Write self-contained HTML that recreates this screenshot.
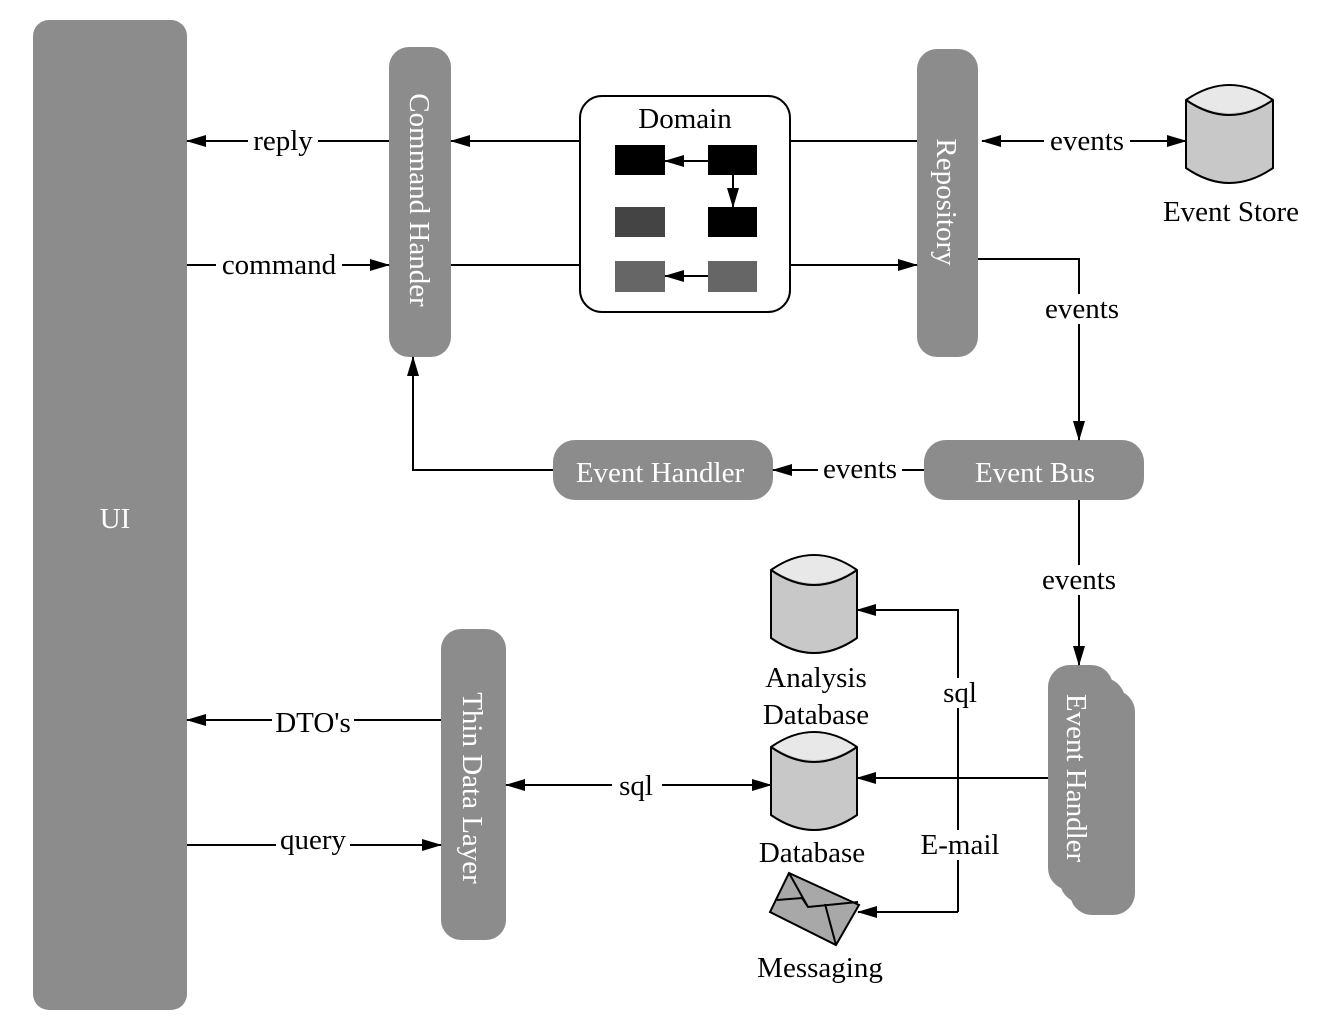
<!DOCTYPE html>
<html><head><meta charset="utf-8"><style>body{margin:0;background:#fff}svg{display:block}text{font-family:"Liberation Serif",serif;font-size:29px}</style></head><body>
<svg width="1336" height="1024" viewBox="0 0 1336 1024" xmlns="http://www.w3.org/2000/svg">
<defs><marker id="a" markerWidth="20" markerHeight="12" refX="19" refY="6" orient="auto-start-reverse" markerUnits="userSpaceOnUse"><path d="M0,0 L20,6 L0,12 Z" fill="#000"/></marker></defs>
<g fill="#8c8c8c">
<rect x="33" y="20" width="154" height="990" rx="16"/>
<rect x="389" y="47" width="62" height="310" rx="20"/>
<rect x="917" y="49" width="61" height="308" rx="20"/>
<rect x="924" y="440" width="220" height="60" rx="22"/>
<rect x="553" y="440" width="220" height="60" rx="22"/>
<rect x="441" y="629" width="65" height="311" rx="20"/>
<rect x="1070" y="690" width="65" height="225" rx="22"/>
<rect x="1060" y="678" width="65" height="225" rx="22"/>
<rect x="1048" y="665" width="65" height="225" rx="22"/>
</g>
<g fill="#fff" text-anchor="middle">
<text x="115" y="528">UI</text>
<text x="660" y="482">Event Handler</text>
<text x="1035" y="482">Event Bus</text>
<text transform="translate(410,200) rotate(90)">Command Hander</text>
<text transform="translate(937,202) rotate(90)">Repository</text>
<text transform="translate(463,788) rotate(90)">Thin Data Layer</text>
<text transform="translate(1067,778) rotate(90)">Event Handler</text>
</g>
<rect x="580" y="96" width="210" height="216" rx="22" fill="#fff" stroke="#000" stroke-width="2"/>
<text x="685" y="128" text-anchor="middle">Domain</text>
<rect x="615" y="145" width="50" height="30" fill="#000"/>
<rect x="708" y="145" width="49" height="30" fill="#000"/>
<rect x="615" y="207" width="50" height="30" fill="#444"/>
<rect x="708" y="207" width="49" height="30" fill="#000"/>
<rect x="615" y="261" width="50" height="31" fill="#666"/>
<rect x="708" y="261" width="49" height="31" fill="#666"/>
<g stroke="#000" stroke-width="2" fill="none">
<line x1="708" y1="161" x2="665" y2="161" marker-end="url(#a)"/>
<line x1="733" y1="175" x2="733" y2="207" marker-end="url(#a)"/>
<line x1="708" y1="276" x2="665" y2="276" marker-end="url(#a)"/>
<line x1="389" y1="141" x2="187" y2="141" marker-end="url(#a)"/>
<line x1="187" y1="265" x2="389" y2="265" marker-end="url(#a)"/>
<line x1="580" y1="141" x2="451" y2="141" marker-end="url(#a)"/>
<line x1="451" y1="265" x2="580" y2="265"/>
<line x1="790" y1="141" x2="917" y2="141"/>
<line x1="790" y1="265" x2="917" y2="265" marker-end="url(#a)"/>
<line x1="982" y1="141" x2="1186" y2="141" marker-start="url(#a)" marker-end="url(#a)"/>
<polyline points="978,259 1079,259 1079,440" marker-end="url(#a)"/>
<line x1="924" y1="470" x2="773" y2="470" marker-end="url(#a)"/>
<polyline points="553,470 413,470 413,357" marker-end="url(#a)"/>
<line x1="1079" y1="500" x2="1079" y2="665" marker-end="url(#a)"/>
<line x1="1048" y1="778" x2="857" y2="778" marker-end="url(#a)"/>
<polyline points="958,912 958,610 857,610" marker-end="url(#a)"/>
<line x1="958" y1="912" x2="858" y2="912" marker-end="url(#a)"/>
<line x1="506" y1="785" x2="771" y2="785" marker-start="url(#a)" marker-end="url(#a)"/>
<line x1="441" y1="720" x2="187" y2="720" marker-end="url(#a)"/>
<line x1="187" y1="845" x2="441" y2="845" marker-end="url(#a)"/>
</g>
<g stroke="#000" stroke-width="2">
<path d="M1186,100 v68 q43.5,30 87,0 v-68 q-43.5,-30 -87,0 Z" fill="#c8c8c8"/>
<path d="M1188,100 q41.5,-28 83,0 q-41.5,26 -83,0Z" fill="#e8e8e8" stroke="none"/>
<path d="M1186,100 q43.5,30 87,0" fill="none"/>
<path d="M771,570 v68 q43,30 86,0 v-68 q-43,-30 -86,0 Z" fill="#c8c8c8"/>
<path d="M773,570 q41,-28 82,0 q-41,26 -82,0Z" fill="#e8e8e8" stroke="none"/>
<path d="M771,570 q43,30 86,0" fill="none"/>
<path d="M771,747 v68 q43,30 86,0 v-68 q-43,-30 -86,0 Z" fill="#c8c8c8"/>
<path d="M773,747 q41,-28 82,0 q-41,26 -82,0Z" fill="#e8e8e8" stroke="none"/>
<path d="M771,747 q43,30 86,0" fill="none"/>
<path d="M789,873 L859,905 L836,945 L770,912 Z" fill="#a8a8a8"/>
<path d="M777,900 L802,898 L808,907 L858,902 M789,873 L808,907 M836,945 L825,904" fill="none"/>
</g>
<g text-anchor="middle" fill="#000">
<rect x="248" y="127" width="70" height="28" fill="#fff"/><text x="283" y="150">reply</text>
<rect x="216" y="251" width="126" height="28" fill="#fff"/><text x="279" y="274">command</text>
<rect x="1044" y="127" width="86" height="28" fill="#fff"/><text x="1087" y="150">events</text>
<rect x="1038" y="294" width="86" height="30" fill="#fff"/><text x="1082" y="318">events</text>
<rect x="818" y="456" width="84" height="28" fill="#fff"/><text x="860" y="478">events</text>
<rect x="1036" y="565" width="86" height="30" fill="#fff"/><text x="1079" y="589">events</text>
<text x="1231" y="221">Event Store</text>
<text x="816" y="687">Analysis</text>
<text x="816" y="724">Database</text>
<text x="812" y="862">Database</text>
<text x="820" y="977">Messaging</text>
<rect x="936" y="678" width="48" height="30" fill="#fff"/><text x="960" y="702">sql</text>
<rect x="914" y="830" width="92" height="30" fill="#fff"/><text x="960" y="854">E-mail</text>
<rect x="612" y="771" width="50" height="30" fill="#fff"/><text x="636" y="795">sql</text>
<rect x="272" y="708" width="82" height="28" fill="#fff"/><text x="313" y="732">DTO's</text>
<rect x="276" y="826" width="74" height="28" fill="#fff"/><text x="313" y="849">query</text>
</g>
</svg>
</body></html>
